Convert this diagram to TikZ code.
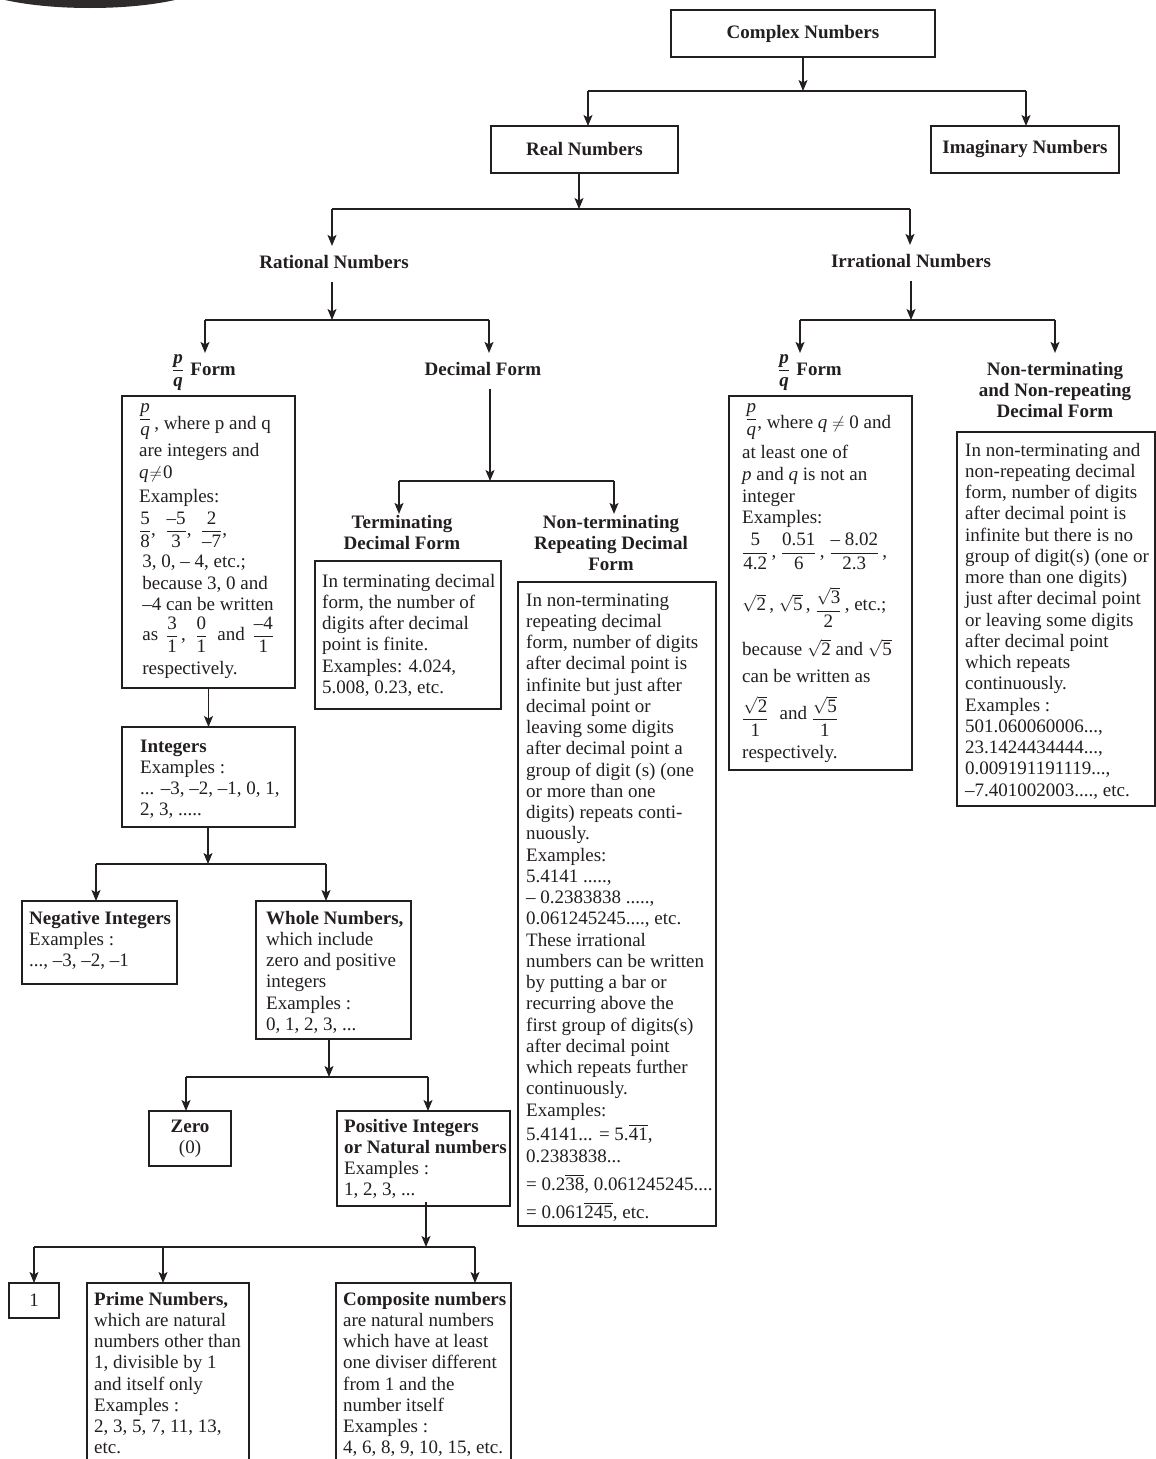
\documentclass[tikz,border=0pt]{standalone}
\usepackage{amsmath}
\usepackage{fontspec}
\setmainfont{Liberation Serif}
\usetikzlibrary{arrows.meta}
\definecolor{ink}{HTML}{231F20}
\newcommand{\myfs}{\fontsize{19}{21.25}\selectfont}
\newcommand{\blk}[1]{\begin{tabular}[t]{@{}l@{}}#1\end{tabular}}
\newcommand{\blkc}[1]{\begin{tabular}[t]{@{}c@{}}#1\end{tabular}}
\newcommand{\sfr}[2]{\smash{$\dfrac{\text{#1}}{\text{#2}}$}}
\newcommand{\rt}[1]{$\sqrt{\text{#1}}$}
\begin{document}
\begin{tikzpicture}[x=1pt,y=-1pt,
  bx/.style={draw=ink, line width=1.4pt, anchor=north west, inner sep=0pt, outer sep=0pt, text=ink, font=\myfs\bfseries},
  tx/.style={anchor=base west, inner sep=0pt, text=ink, font=\myfs},
  hd/.style={anchor=base, inner xsep=2pt, inner ysep=7pt, text=ink, font=\myfs\bfseries},
  hd0/.style={hd, inner ysep=0pt},
  arr/.style={draw=ink, line width=1.2pt, -{Stealth[length=11pt,width=9pt,inset=2.5pt]}},
  ln/.style={draw=ink, line width=1.2pt}]
\path[use as bounding box] (0,0) rectangle (1156,1459);
\clip (0,0) rectangle (1156,1459);
\fill[white] (0,0) rectangle (1156,1459);
\fill[ink!95] (90,-22) ellipse [x radius=125pt, y radius=30pt];

% ---------- boxes ----------
\node[bx, minimum width=264pt, minimum height=47pt] (complex) at (671,10) {Complex Numbers\hspace{14pt}};
\node[bx, minimum width=187pt, minimum height=47pt] (real) at (491,126) {Real Numbers};
\node[bx, minimum width=188pt, minimum height=47pt] (imag) at (931,126) {Imaginary Numbers};
\node[bx, minimum width=173pt, minimum height=292pt] (pqbox) at (122,396) {};
\node[bx, minimum width=173pt, minimum height=100pt] (intbox) at (122,727) {};
\node[bx, minimum width=155pt, minimum height=83pt] (negbox) at (22,901) {};
\node[bx, minimum width=155pt, minimum height=138pt] (wholebox) at (256,901) {};
\node[bx, minimum width=82pt, minimum height=55pt] (zerobox) at (149,1111) {\blkc{Zero\\\mdseries(0)}};
\node[bx, minimum width=173pt, minimum height=95pt] (posbox) at (337,1111) {};
\node[bx, minimum width=50pt, minimum height=35pt, font=\myfs] (onebox) at (9,1283) {1};
\node[bx, minimum width=162pt, minimum height=195pt] (primebox) at (87,1283) {};
\node[bx, minimum width=175pt, minimum height=195pt] (compbox) at (336,1283) {};
\node[bx, minimum width=186pt, minimum height=148pt] (termbox) at (315,561) {};
\node[bx, minimum width=198pt, minimum height=644pt] (ntrbox) at (518,582) {};
\node[bx, minimum width=183pt, minimum height=374pt] (ipqbox) at (729,396) {};
\node[bx, minimum width=198pt, minimum height=374pt] (nnrbox) at (957,432) {};

% ---------- headings ----------
\node[hd] (rat) at (334,268) {\blk{Rational Numbers}};
\node[hd] (irr) at (911,267) {\blk{Irrational Numbers}};
\node[hd] (pqA) at (204,375) {\blk{\sfr{\bfseries\itshape p}{\bfseries\itshape q}\,\,Form}};
\node[hd] (decH) at (483,375) {\blk{Decimal Form}};
\node[hd] (pqB) at (810,375) {\blk{\sfr{\bfseries\itshape p}{\bfseries\itshape q}\,\,Form}};
\node[hd] (nnrH) at (1055,375) {\blkc{Non-terminating\\and Non-repeating\\Decimal Form}};
\node[hd0] (termH) at (402,528) {\blkc{Terminating\\Decimal Form}};
\node[hd0] (ntrH) at (611,528) {\blkc{Non-terminating\\Repeating Decimal\\Form}};

% ---------- box texts ----------
\node[tx] (pqtext) at (139,429) {\blk{%
\raisebox{5pt}{\sfr{\itshape p}{\itshape q}}\,, where p and q \\[6.7pt]
are integers and \\[0.7pt]
\textit{q}\kern1pt$\neq$\kern1pt0 \\[2.7pt]
Examples: \\[11.7pt]
\sfr{5}{8},\enspace\sfr{–5}{3},\enspace\sfr{2}{–7}, \\[10.7pt]
\,3, 0, – 4, etc.; \\
\,because 3, 0 and \\[0.7pt]
\,–4 can be written \\[8.7pt]
\,as \,\sfr{3}{1}\,,\enspace\sfr{0}{1}\; and \,\sfr{–4}{1} \\[12.7pt]
\,respectively.}};

\node[tx] (inttext) at (140,752) {\blk{\textbf{Integers}\\
Examples :\\
... –3, –2, –1, 0, 1,\\
2, 3, .....}};

\node[tx] (negtext) at (29,924) {\blk{\textbf{Negative Integers}\\
Examples :\\
..., –3, –2, –1}};

\node[tx] (wholetext) at (266,924) {\blk{\textbf{Whole Numbers,}\\
which include\\
zero and positive\\
integers\\
Examples :\\
0, 1, 2, 3, ...}};

\node[tx] (postext) at (344,1132) {\blk{\textbf{Positive Integers}\\
\textbf{or Natural numbers}\\
Examples :\\
1, 2, 3, ...}};

\node[tx] (primetext) at (94,1305) {\blk{\textbf{Prime Numbers,}\\
which are natural\\
numbers other than\\
1, divisible by 1\\
and itself only\\
Examples :\\
2, 3, 5, 7, 11, 13,\\
etc.}};

\node[tx] (comptext) at (343,1305) {\blk{\textbf{Composite numbers}\\
are natural numbers\\
which have at least\\
one diviser different\\
from 1 and the\\
number itself\\
Examples :\\
4, 6, 8, 9, 10, 15, etc.}};

\node[tx] (termtext) at (322,587) {\blk{In terminating decimal\\
form, the number of\\
digits after decimal\\
point is finite.\\
Examples: 4.024,\\
5.008, 0.23, etc.}};

\node[tx] (ntrtext) at (526,606) {\blk{In non-terminating\\
repeating decimal\\
form, number of digits\\
after decimal point is\\
infinite but just after\\
decimal point or\\
leaving some digits\\
after decimal point a\\
group of digit (s) (one\\
or more than one\\
digits) repeats conti-\\
nuously.\\
Examples:\\
5.4141 .....,\\
– 0.2383838 .....,\\
0.061245245...., etc.\\
These irrational\\
numbers can be written\\
by putting a bar or\\
recurring above the\\
first group of digits(s)\\
after decimal point\\
which repeats further\\
continuously.\\
Examples:\\[2.75pt]
5.4141... = 5.\smash{$\overline{\text{41}}$},\\[0.75pt]
0.2383838...\\[6.75pt]
= 0.2\smash{$\overline{\text{38}}$}, 0.061245245....\\[6.75pt]
= 0.061\smash{$\overline{\text{245}}$}, etc.}};

\node[tx] (ipqtext) at (742,428) {\blk{%
\,\raisebox{4pt}{\sfr{\itshape p}{\itshape q}}, where \textit{q} $\neq$ 0 and \\[9.7pt]
at least one of \\
\textit{p} and \textit{q} is not an \\[0.7pt]
integer \\
Examples: \\[12.7pt]
\sfr{5}{4.2}\,, \sfr{0.51}{6}\,, \sfr{– 8.02}{2.3}\,, \\[31.7pt]
\smash{\rt{2}}\,, \smash{\rt{5}}\,, \raisebox{-5pt}{\smash{$\dfrac{\sqrt{\text{3}}}{\text{2}}$}}\,, etc.; \\[23.7pt]
because \smash{\rt{2}} and \smash{\rt{5}} \\[5.7pt]
can be written as \\[15.7pt]
\raisebox{-5pt}{\smash{$\dfrac{\sqrt{\text{2}}}{\text{1}}$}}\,\, and \raisebox{-5pt}{\smash{$\dfrac{\sqrt{\text{5}}}{\text{1}}$}} \\[17.7pt]
respectively.}};

\node[tx] (nnrtext) at (965,456) {\blk{In non-terminating and\\
non-repeating decimal\\
form, number of digits\\
after decimal point is\\
infinite but there is no\\
group of digit(s) (one or\\
more than one digits)\\
just after decimal point\\
or leaving some digits\\
after decimal point\\
which repeats\\
continuously.\\
Examples :\\
501.060060006...,\\
23.1424434444...,\\
0.009191191119...,\\
–7.401002003...., etc.}};

% ---------- connectors ----------
\coordinate (j1) at (803,91); \coordinate (j1l) at (588,91); \coordinate (j1r) at (1026,91);
\draw[arr] (complex.south) -- (j1);
\draw[ln] (j1l) -- (j1r);
\draw[arr] (j1l) -- (j1l |- real.north);
\draw[arr] (j1r) -- (j1r |- imag.north);

\coordinate (j2) at (579,209); \coordinate (j2l) at (332,209); \coordinate (j2r) at (910,209);
\draw[arr] (j2 |- real.south) -- (j2);
\draw[ln] (j2l) -- (j2r);
\draw[arr] (j2l) -- (j2l |- rat.north);
\draw[arr] (j2r) -- (j2r |- irr.north);

\coordinate (j3) at (332,320); \coordinate (j3l) at (205,320); \coordinate (j3r) at (489,320);
\draw[arr] (j3 |- rat.south) -- (j3);
\draw[ln] (j3l) -- (j3r);
\draw[arr] (j3l) -- (j3l |- pqA.north);
\draw[arr] (j3r) -- (j3r |- decH.north);

\coordinate (j4) at (911,320); \coordinate (j4l) at (800,320); \coordinate (j4r) at (1055,320);
\draw[arr] (j4 |- irr.south) -- (j4);
\draw[ln] (j4l) -- (j4r);
\draw[arr] (j4l) -- (j4l |- pqB.north);
\draw[arr] (j4r) -- (j4r |- nnrH.north);

\coordinate (j5) at (490,481); \coordinate (j5l) at (399,481); \coordinate (j5r) at (614,481);
\draw[arr] (j5 |- decH.south) -- (j5);
\draw[ln] (j5l) -- (j5r);
\draw[arr] (j5l) -- ([yshift=-1pt]j5l |- termH.north);
\draw[arr] (j5r) -- ([yshift=-1pt]j5r |- ntrH.north);

\draw[arr] (pqbox.south) -- (intbox.north);

\coordinate (j6) at (208,864); \coordinate (j6l) at (96,864); \coordinate (j6r) at (326,864);
\draw[arr] (j6 |- intbox.south) -- (j6);
\draw[ln] (j6l) -- (j6r);
\draw[arr] (j6l) -- (j6l |- negbox.north);
\draw[arr] (j6r) -- (j6r |- wholebox.north);

\coordinate (j7) at (329,1077); \coordinate (j7l) at (186,1077); \coordinate (j7r) at (428,1077);
\draw[arr] (j7 |- wholebox.south) -- (j7);
\draw[ln] (j7l) -- (j7r);
\draw[arr] (j7l) -- (j7l |- zerobox.north);
\draw[arr] (j7r) -- (j7r |- posbox.north);

\coordinate (j8) at (426,1247); \coordinate (j8l) at (34,1247); \coordinate (j8m) at (163,1247); \coordinate (j8r) at (475,1247);
\draw[arr] ([yshift=4pt]j8 |- posbox.south) -- (j8);
\draw[ln] (j8l) -- (j8r);
\draw[arr] (j8l) -- (j8l |- onebox.north);
\draw[arr] (j8m) -- (j8m |- primebox.north);
\draw[arr] (j8r) -- (j8r |- compbox.north);
\end{tikzpicture}
\end{document}
